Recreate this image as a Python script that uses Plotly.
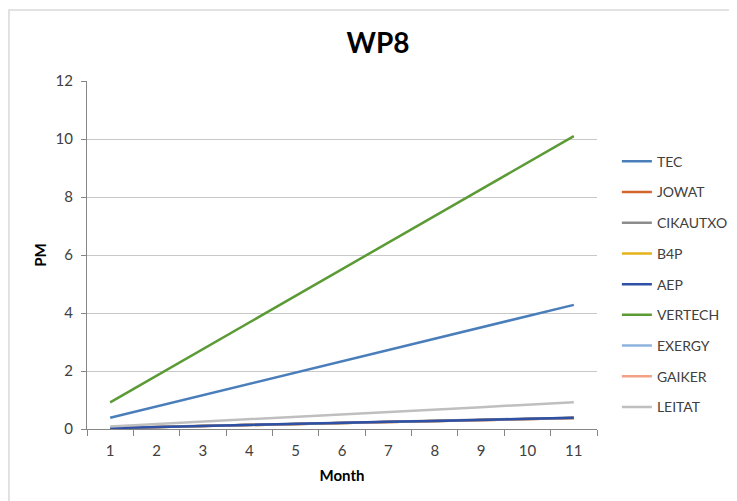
import plotly.graph_objects as go

months = ["1", "2", "3", "4", "5", "6", "7", "8", "9", "10", "11"]

series_names = ["TEC", "JOWAT", "CIKAUTXO", "B4P", "AEP", "VERTECH", "EXERGY", "GAIKER", "LEITAT"]
colors = ["#4a7ebb", "#d4652a", "#8c8c8c", "#e6b319", "#2e51a6", "#5b9b35", "#8eb3de", "#f4a084", "#bfbfbf"]

TEC = [0.39, 0.78, 1.17, 1.56, 1.95, 2.34, 2.73, 3.12, 3.51, 3.90, 4.28]
JOWAT = [0.03, 0.07, 0.10, 0.14, 0.17, 0.21, 0.24, 0.28, 0.31, 0.35, 0.38]
CIKAUTXO = [0.04, 0.07, 0.11, 0.14, 0.18, 0.21, 0.25, 0.28, 0.32, 0.35, 0.39]
B4P = [0.03, 0.07, 0.10, 0.14, 0.17, 0.21, 0.24, 0.28, 0.31, 0.35, 0.38]
AEP = [0.03, 0.07, 0.10, 0.14, 0.17, 0.21, 0.25, 0.28, 0.32, 0.35, 0.39]
VERTECH = [0.92, 1.84, 2.76, 3.67, 4.59, 5.51, 6.43, 7.35, 8.26, 9.18, 10.10]
EXERGY = [0.03, 0.07, 0.10, 0.14, 0.17, 0.21, 0.24, 0.28, 0.31, 0.35, 0.38]
GAIKER = [0.03, 0.07, 0.10, 0.14, 0.17, 0.21, 0.24, 0.28, 0.31, 0.35, 0.38]
LEITAT = [0.09, 0.17, 0.26, 0.34, 0.42, 0.51, 0.59, 0.67, 0.75, 0.84, 0.92]

values = [TEC, JOWAT, CIKAUTXO, B4P, AEP, VERTECH, EXERGY, GAIKER, LEITAT]

# drawing order (bottom to top) so the visible lines match the reference
draw_order = [1, 3, 6, 7, 2, 4, 8, 0, 5]

FONT = "Lato"
fig = go.Figure()
for i in draw_order:
    fig.add_trace(go.Scatter(
        x=months, y=values[i], name=series_names[i], mode="lines",
        line=dict(color=colors[i], width=2.5),
        legendrank=i + 1, legendgroup=series_names[i],
    ))

fig.update_layout(
    width=737, height=501,
    margin=dict(l=79, r=145, t=73, b=80),
    paper_bgcolor="white", plot_bgcolor="white",
    font=dict(family=FONT, size=14, color="#404040"),
    title=dict(text="<b>WP8</b>", x=370 / 737, xref="container", xanchor="center",
               y=1 - 35 / 501, yref="container", yanchor="middle",
               font=dict(family=FONT, size=28, color="#000000")),
    showlegend=True,
    legend=dict(x=1.039, xref="paper", xanchor="left", y=0.814, yanchor="top",
                font=dict(family=FONT, size=14, color="#404040"),
                tracegroupgap=9.5, itemwidth=30, bgcolor="rgba(0,0,0,0)"),
    shapes=[dict(type="rect", xref="paper", yref="paper",
                 x0=(0.5 - 79) / 513, x1=1.5, y0=-0.5, y1=(421 - 2) / 348,
                 line=dict(color="#d9d9d9", width=1.5), layer="below")],
)

fig.update_xaxes(
    type="category", range=[-0.5, 10.5], tickson="boundaries",
    ticks="outside", ticklen=6, tickcolor="#868686",
    showline=True, linecolor="#868686", linewidth=1,
    showgrid=False, zeroline=False,
    ticklabelstandoff=8,
    tickfont=dict(family=FONT, size=15, color="#404040"),
    title=dict(text="<b>Month</b>", font=dict(family=FONT, size=15, color="#000000"), standoff=12),
)
fig.update_yaxes(
    range=[0, 12], dtick=2, tick0=0,
    ticks="outside", ticklen=5, tickcolor="#868686",
    showline=True, linecolor="#868686", linewidth=1,
    showgrid=True, gridcolor="#c8c8c8", gridwidth=1, zeroline=False,
    ticklabelstandoff=5,
    tickfont=dict(family=FONT, size=15, color="#404040"),
    title=dict(text="<b>PM</b>", font=dict(family=FONT, size=15, color="#000000"), standoff=5),
)

fig.write_html("out.html")
